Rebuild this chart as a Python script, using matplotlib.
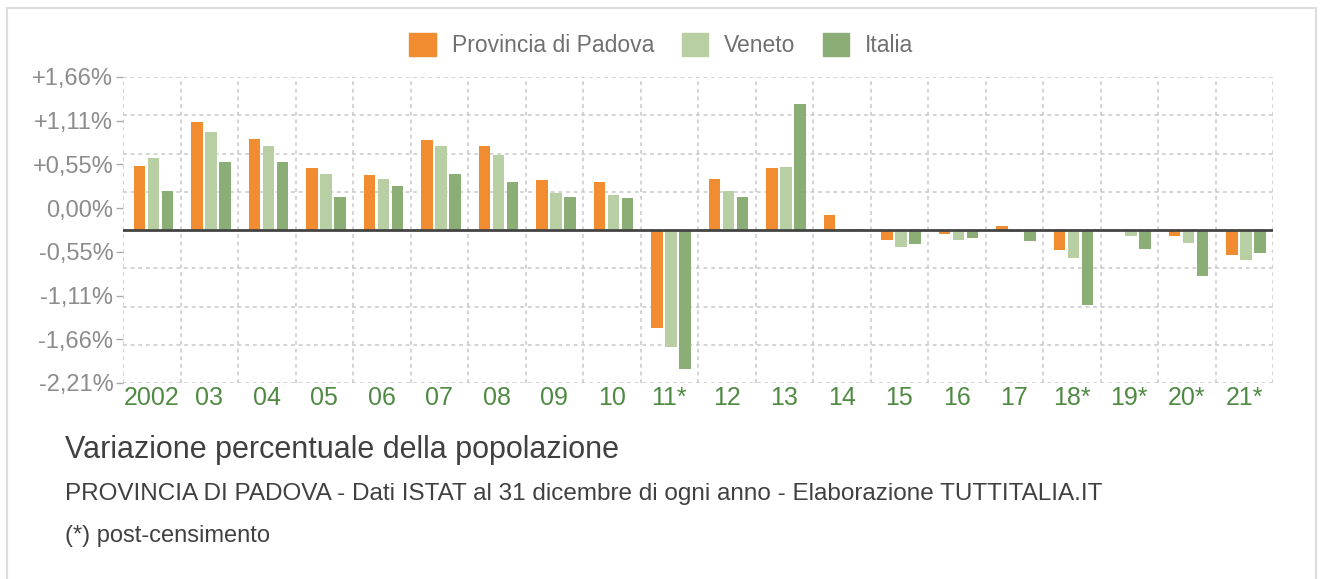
import matplotlib.pyplot as plt
import numpy as np
from matplotlib.patches import Patch, Rectangle

anni = ['2002', '03', '04', '05', '06', '07', '08', '09', '10', '11*',
        '12', '13', '14', '15', '16', '17', '18*', '19*', '20*', '21*']
padova = [0.93, 1.56, 1.32, 0.90, 0.80, 1.30, 1.21, 0.72, 0.69, -1.41,
          0.74, 0.89, 0.21, -0.14, -0.06, 0.06, -0.29, 0.00, -0.09, -0.36]
veneto = [1.04, 1.41, 1.22, 0.81, 0.73, 1.22, 1.09, 0.54, 0.50, -1.69,
          0.56, 0.91, 0.01, -0.25, -0.14, -0.03, -0.40, -0.09, -0.19, -0.44]
italia = [0.56, 0.98, 0.98, 0.48, 0.63, 0.81, 0.70, 0.48, 0.46, -2.01,
          0.48, 1.82, 0.02, -0.20, -0.11, -0.16, -1.08, -0.28, -0.66, -0.33]
etichette_y = ['+1,66%', '+1,11%', '+0,55%', '0,00%', '-0,55%', '-1,11%', '-1,66%', '-2,21%']

plt.rcParams['font.family'] = ['Liberation Sans', 'DejaVu Sans']

arancio = '#f28c30'
verde_chiaro = '#b8cfa3'
verde = '#8aae76'

W, H = 1323, 579
fig = plt.figure(figsize=(W / 100, H / 100), dpi=100)
ax = fig.add_axes([123 / W, 1 - 383 / H, 1150 / W, 306 / H])

x = np.arange(len(anni))
ax.bar(x - 0.215, padova, 0.2, color=arancio, label='Provincia di Padova', zorder=3)
ax.bar(x + 0.028, veneto, 0.2, color=verde_chiaro, label='Veneto', zorder=3)
ax.bar(x + 0.271, italia, 0.2, color=verde, label='Italia', zorder=3)

ymax = 2.21
ax.set_xlim(-0.5, len(anni) - 0.5)
ax.set_ylim(-ymax, ymax)

# griglia tratteggiata (anche i bordi del riquadro)
passo = ymax / 4
for v in np.arange(-4, 5) * passo:
    ax.axhline(v, color='#c8c8c8', lw=1.1, ls=(0, (2.5, 2.5)), zorder=1)
for v in np.arange(-0.5, len(anni)):
    ax.axvline(v, color='#c8c8c8', lw=1.1, ls=(0, (2.5, 2.5)), zorder=1)
ax.axhline(0, color='#444444', lw=2, zorder=4)

ax.set_yticks(np.linspace(ymax, -ymax, 8))
ax.set_yticklabels(etichette_y)
ax.tick_params(axis='y', length=5, width=1, color='#aaaaaa', labelcolor='#8c8c8c',
               labelsize=17, pad=2)
ax.set_xticks(x)
ax.set_xticklabels(anni)
ax.tick_params(axis='x', length=0, labelcolor='#4f8a43', labelsize=18, pad=2)
for s in ax.spines.values():
    s.set_visible(False)

maniglie = [Patch(color=arancio), Patch(color=verde_chiaro), Patch(color=verde)]
fig.legend(maniglie, ['Provincia di Padova', 'Veneto', 'Italia'], loc='center',
           bbox_to_anchor=(0.5, 1 - 45 / H), ncol=3, frameon=False, fontsize=16.5,
           handlelength=1.15, handleheight=1.15, handletextpad=0.7, columnspacing=1.2,
           labelcolor='#707070')

fig.text(65 / W, 1 - 450 / H, 'Variazione percentuale della popolazione',
         fontsize=22, color='#404040', va='center')
fig.text(65 / W, 1 - 494 / H,
         'PROVINCIA DI PADOVA - Dati ISTAT al 31 dicembre di ogni anno - Elaborazione TUTTITALIA.IT',
         fontsize=17.5, color='#404040', va='center')
fig.text(65 / W, 1 - 536 / H, '(*) post-censimento', fontsize=17, color='#404040', va='center')

fig.patches.append(Rectangle((7 / W, -0.05), 1309 / W, 1.05 - 8 / H, transform=fig.transFigure,
                             fill=False, edgecolor='#dddddd', lw=1.5))

fig.savefig('out.png', dpi=100)
